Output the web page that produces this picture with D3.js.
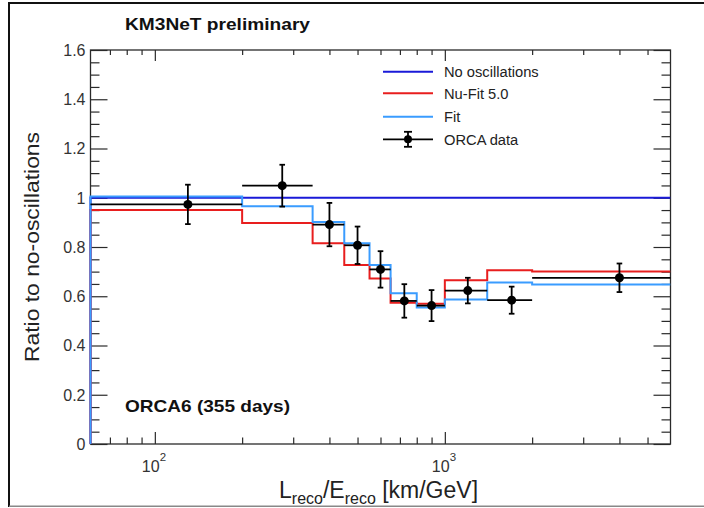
<!DOCTYPE html>
<html>
<head>
<meta charset="utf-8">
<script src="https://cdn.jsdelivr.net/npm/d3@7"></script>
<style>
  body { margin: 0; background: #fff; }
  svg { display: block; }
  text { font-family: "Liberation Sans", Arial, Helvetica, sans-serif; }
</style>
</head>
<body>
<svg id="chart" width="704" height="508"></svg>
<script>
// L/E binning (km/GeV) and bin centres
const binEdges = [60, 200, 350, 450, 550, 650, 800, 1000, 1400, 2000, 6000];
const binCenters = [130, 275, 400, 500, 600, 725, 900, 1200, 1700, 4000];

// Ratios to the no-oscillation expectation
const orcaRatio  = [0.973, 1.049, 0.891, 0.807, 0.709, 0.581, 0.562, 0.623, 0.584, 0.675];
const orcaError  = [0.080, 0.085, 0.088, 0.076, 0.074, 0.068, 0.063, 0.052, 0.055, 0.058];
const fitRatio   = [1.005, 0.965, 0.902, 0.815, 0.727, 0.612, 0.554, 0.587, 0.656, 0.648];
const nuFitRatio = [0.950, 0.897, 0.815, 0.727, 0.672, 0.574, 0.570, 0.665, 0.706, 0.701];
const noOscRatio = [1, 1, 1, 1, 1, 1, 1, 1, 1, 1];

// Axis ticks and labels
const yMajorTicks = [0, 0.2, 0.4, 0.6, 0.8, 1.0, 1.2, 1.4, 1.6];
const yTickLabels = ["0", "0.2", "0.4", "0.6", "0.8", "1", "1.2", "1.4", "1.6"];
const xMajorTicks = [100, 1000];
const xTickExponents = ["2", "3"];
const xMinorTicks = [70, 80, 90, 200, 300, 400, 500, 600, 700, 800, 900, 2000, 3000, 4000, 5000];

const legendLabels = ["No oscillations", "Nu-Fit 5.0", "Fit", "ORCA data"];

const colNoOsc = "#1a1ad8";
const colNuFit = "#e81e1e";
const colFit = "#3a9cff";
const axisCol = "#2a2a2a";

const svg = d3.select("#chart");
const L = 90.5, R = 670.5, T = 50, B = 444;

const x = d3.scaleLog().domain([60, 6000]).range([L, R]);
const y = d3.scaleLinear().domain([0, 1.6]).range([B, T]);

// outer frame of the figure
svg.append("path")
  .attr("d", "M9,507 L9,3 L704,3")
  .attr("fill", "none").attr("stroke", "#111").attr("stroke-width", 2);
svg.append("line").attr("x1", 9).attr("x2", 704).attr("y1", 506.3).attr("y2", 506.3)
  .attr("stroke", "#888").attr("stroke-width", 1.5);

// axes with inward ticks on all four sides
function styleAxis(g) {
  g.select(".domain").remove();
  g.selectAll("line").attr("stroke", axisCol).attr("stroke-width", 1.2);
}
const sub = (ticks) => ticks.filter(v => !yMajorTicks.some(m => Math.abs(m - v) < 1e-6));
const yMinor = sub(d3.range(0, 1.6001, 0.05).map(v => +v.toFixed(2)));

svg.append("g").attr("transform", `translate(0,${B})`)
  .call(d3.axisBottom(x).tickValues(xMajorTicks).tickSizeInner(-12).tickSizeOuter(0).tickFormat(""))
  .call(styleAxis);
svg.append("g").attr("transform", `translate(0,${B})`)
  .call(d3.axisBottom(x).tickValues(xMinorTicks).tickSizeInner(-6.5).tickSizeOuter(0).tickFormat(""))
  .call(styleAxis);
svg.append("g").attr("transform", `translate(0,${T})`)
  .call(d3.axisTop(x).tickValues(xMajorTicks).tickSizeInner(-11).tickSizeOuter(0).tickFormat(""))
  .call(styleAxis);
svg.append("g").attr("transform", `translate(0,${T})`)
  .call(d3.axisTop(x).tickValues(xMinorTicks).tickSizeInner(-5).tickSizeOuter(0).tickFormat(""))
  .call(styleAxis);
svg.append("g").attr("transform", `translate(${L},0)`)
  .call(d3.axisLeft(y).tickValues(yMajorTicks).tickSizeInner(-17).tickSizeOuter(0).tickFormat(""))
  .call(styleAxis);
svg.append("g").attr("transform", `translate(${L},0)`)
  .call(d3.axisLeft(y).tickValues(yMinor).tickSizeInner(-9).tickSizeOuter(0).tickFormat(""))
  .call(styleAxis);
svg.append("g").attr("transform", `translate(${R},0)`)
  .call(d3.axisRight(y).tickValues(yMajorTicks).tickSizeInner(-17).tickSizeOuter(0).tickFormat(""))
  .call(styleAxis);
svg.append("g").attr("transform", `translate(${R},0)`)
  .call(d3.axisRight(y).tickValues(yMinor).tickSizeInner(-9).tickSizeOuter(0).tickFormat(""))
  .call(styleAxis);

// plot frame
svg.append("rect").attr("x", L).attr("y", T).attr("width", R - L).attr("height", B - T)
  .attr("fill", "none").attr("stroke", axisCol).attr("stroke-width", 1.3);

// y tick labels
svg.append("g").selectAll("text").data(yMajorTicks).join("text")
  .attr("x", L - 5).attr("y", d => y(d)).attr("dy", "0.36em")
  .attr("text-anchor", "end").attr("font-size", 16).attr("fill", "#333")
  .text((d, i) => yTickLabels[i]);

// x tick labels as powers of ten
const xl = svg.append("g").selectAll("text").data(xMajorTicks).join("text")
  .attr("x", d => x(d) - 13).attr("y", 472).attr("font-size", 16).attr("fill", "#333");
xl.append("tspan").text("10");
xl.append("tspan").attr("dy", -11).attr("font-size", 11.5).text((d, i) => xTickExponents[i]);

// axis titles
const xt = svg.append("text").attr("x", 279).attr("y", 498).attr("font-size", 23).attr("fill", "#222");
xt.append("tspan").text("L");
xt.append("tspan").attr("dy", 6).attr("font-size", 16).text("reco");
xt.append("tspan").attr("dy", -6).text("/E");
xt.append("tspan").attr("dy", 6).attr("font-size", 16).text("reco");
xt.append("tspan").attr("dy", -6).text(" [km/GeV]");

svg.append("text")
  .attr("transform", `translate(39,247) rotate(-90)`)
  .attr("text-anchor", "middle").attr("font-size", 21).attr("fill", "#222")
  .attr("textLength", 230).attr("lengthAdjust", "spacingAndGlyphs")
  .text("Ratio to no-oscillations");

// histogram step outlines
const clip = svg.append("clipPath").attr("id", "plotClip");
clip.append("rect").attr("x", L - 2).attr("y", T).attr("width", R - L + 2).attr("height", B - T);

const step = d3.line().x(d => x(d[0])).y(d => y(d[1])).curve(d3.curveStepAfter);
function histPoints(vals) {
  const pts = [[binEdges[0], 0]];
  vals.forEach((v, i) => pts.push([binEdges[i], v]));
  pts.push([binEdges[binEdges.length - 1], vals[vals.length - 1]]);
  return pts;
}
const hists = svg.append("g").attr("clip-path", "url(#plotClip)");
[[noOscRatio, colNoOsc], [nuFitRatio, colNuFit], [fitRatio, colFit]].forEach(([vals, col]) => {
  hists.append("path").attr("d", step(histPoints(vals)))
    .attr("fill", "none").attr("stroke", col).attr("stroke-width", 2);
});

// ORCA data with error bars
const pts = svg.append("g").attr("stroke", "#000").attr("stroke-width", 1.8);
binCenters.forEach((c, i) => {
  const v = orcaRatio[i], e = orcaError[i];
  pts.append("line").attr("x1", x(binEdges[i])).attr("x2", x(binEdges[i + 1]))
    .attr("y1", y(v)).attr("y2", y(v));
  pts.append("line").attr("x1", x(c)).attr("x2", x(c)).attr("y1", y(v - e)).attr("y2", y(v + e));
  [v - e, v + e].forEach(yy => pts.append("line")
    .attr("x1", x(c) - 2.8).attr("x2", x(c) + 2.8).attr("y1", y(yy)).attr("y2", y(yy)));
  pts.append("circle").attr("cx", x(c)).attr("cy", y(v)).attr("r", 4.5).attr("fill", "#000").attr("stroke", "none");
});

// legend
const legY = [71.7, 93.3, 116.7, 139.3];
const legCols = [colNoOsc, colNuFit, colFit, "#000"];
const leg = svg.append("g");
legendLabels.forEach((lab, i) => {
  leg.append("line").attr("x1", 383).attr("x2", 433).attr("y1", legY[i]).attr("y2", legY[i])
    .attr("stroke", legCols[i]).attr("stroke-width", i === 3 ? 1.8 : 2);
  leg.append("text").attr("x", 444).attr("y", legY[i]).attr("dy", "0.36em")
    .attr("font-size", 14.7).attr("fill", "#222").text(lab);
});
const my = legY[3];
leg.append("line").attr("x1", 408).attr("x2", 408).attr("y1", my - 7.5).attr("y2", my + 7.5).attr("stroke", "#000").attr("stroke-width", 1.8);
[my - 7.5, my + 7.5].forEach(yy => leg.append("line").attr("x1", 404).attr("x2", 412).attr("y1", yy).attr("y2", yy).attr("stroke", "#000").attr("stroke-width", 1.8));
leg.append("circle").attr("cx", 408).attr("cy", my).attr("r", 4).attr("fill", "#000");

// annotations
svg.append("text").attr("x", 125).attr("y", 30).attr("font-size", 17).attr("font-weight", "bold")
  .attr("fill", "#111").attr("textLength", 185).attr("lengthAdjust", "spacingAndGlyphs")
  .text("KM3NeT preliminary");
svg.append("text").attr("x", 125).attr("y", 411.5).attr("font-size", 17).attr("font-weight", "bold")
  .attr("fill", "#111").attr("textLength", 165).attr("lengthAdjust", "spacingAndGlyphs")
  .text("ORCA6 (355 days)");
</script>
</body>
</html>
